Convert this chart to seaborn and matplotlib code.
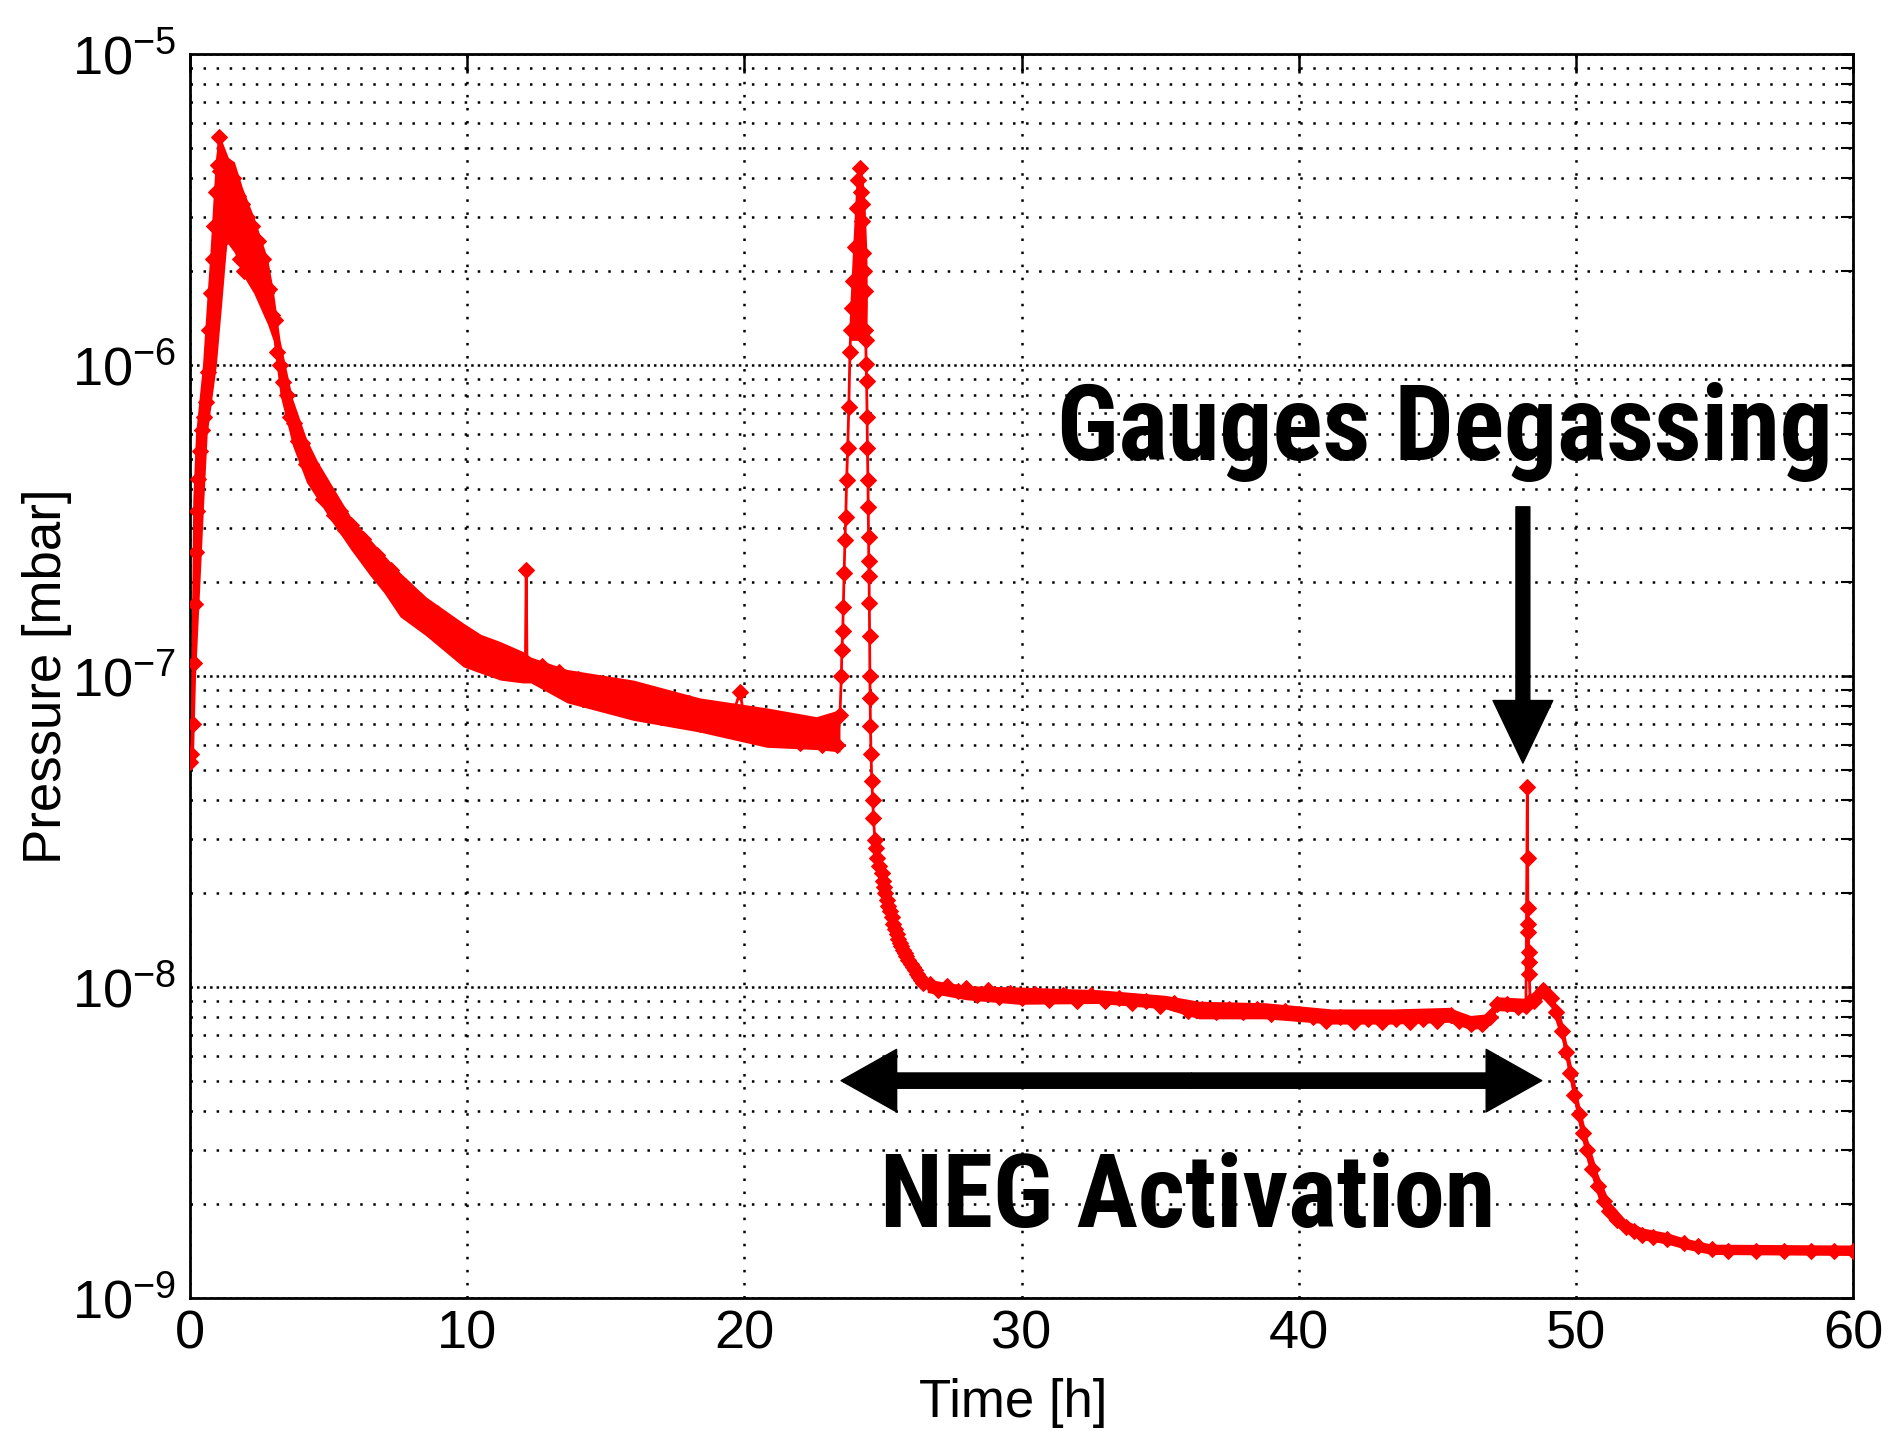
import matplotlib
matplotlib.use("Agg")
import matplotlib.pyplot as plt
import seaborn as sns
from matplotlib.ticker import FixedLocator, LogLocator, NullLocator, NullFormatter
from matplotlib import font_manager as fm

# ---------------- data ----------------
time_h = [
    0.00, 0.05, 0.10, 0.14, 0.18, 0.22, 0.26, 0.30, 0.36, 0.42, 0.50, 0.58, 0.64, 0.70, 0.76, 0.82, 0.88, 0.94, 1.00, 1.05,
    1.10, 1.18, 1.25, 1.32, 1.40, 1.48, 1.56, 1.64, 1.72, 1.80, 1.88, 1.96, 2.05, 2.15, 2.25, 2.35, 2.45, 2.55, 2.65, 2.75,
    2.85, 2.95, 3.05, 3.15, 3.25, 3.35, 3.50, 3.60, 3.75, 3.90, 4.05, 4.20, 4.35, 4.50, 4.65, 4.80, 5.00, 5.20, 5.40, 5.60,
    5.80, 6.00, 6.25, 6.50, 6.75, 7.00, 7.25, 7.50, 7.75, 8.00, 8.30, 8.60, 8.90, 9.20, 9.50, 9.80, 10.1, 10.4, 10.7, 11.0,
    11.3, 11.6, 11.9, 12.10, 12.13, 12.16, 12.4, 12.7, 13.0, 13.3, 13.6, 14.0, 14.4, 14.8, 15.2, 15.6, 16.0, 16.4, 16.8, 17.2,
    17.6, 18.0, 18.4, 18.8, 19.2, 19.6, 19.85, 20.0, 20.4, 20.8, 21.2, 21.6, 22.0, 22.4, 22.8, 23.1, 23.35, 23.45,
    23.50, 23.52, 23.55, 23.57, 23.60, 23.63, 23.66, 23.69, 23.73, 23.77, 23.81, 23.84, 23.87, 23.92, 23.98, 24.05, 24.10, 24.17,
    24.20, 24.23, 24.26, 24.29, 24.32, 24.34, 24.37, 24.38, 24.40, 24.41, 24.43, 24.44, 24.46, 24.47, 24.48, 24.49, 24.50, 24.51,
    24.52, 24.53, 24.54, 24.55, 24.57, 24.60, 24.63, 24.66, 24.71, 24.75, 24.80, 24.87, 24.95, 25.00, 25.05, 25.09, 25.13, 25.19,
    25.25, 25.31, 25.37, 25.44, 25.50, 25.55, 25.60, 25.66, 25.72, 25.78, 25.85, 25.92, 26.00, 26.07, 26.15, 26.22, 26.30, 26.37, 26.45,
    26.7, 27.0, 27.3, 27.7, 28.0, 28.4, 28.8, 29.2, 29.6, 30.0, 30.5, 31.0, 31.5, 32.0, 32.5, 33.0, 33.5, 34.0, 34.5, 35.0,
    35.5, 36.0, 36.5, 37.0, 37.5, 38.0, 38.5, 39.0, 39.5, 40.0, 40.5, 41.0, 41.5, 42.0, 42.5, 43.0, 43.5, 44.0, 44.5, 45.0,
    45.5, 45.8, 46.2, 46.6, 46.9, 47.15, 47.5, 47.9, 48.2,
    48.25, 48.26, 48.27, 48.28, 48.29, 48.30, 48.31, 48.32, 48.35,
    48.5, 48.8, 49.1, 49.3, 49.5, 49.65, 49.8, 49.95, 50.1, 50.25, 50.4, 50.6, 50.8, 51.0, 51.2, 51.5, 51.8, 52.1, 52.4, 52.8,
    53.3, 53.9, 54.4, 54.9, 55.5, 56.5, 57.5, 58.5, 59.3, 60.0,
]
pressure_mbar = [
    5.3e-8, 5.6e-8, 7.0e-8, 1.1e-7, 1.7e-7, 2.5e-7, 3.4e-7, 4.3e-7, 5.3e-7, 6.2e-7, 6.8e-7, 7.6e-7, 9.5e-7, 1.3e-6, 1.7e-6, 2.2e-6, 2.8e-6, 3.6e-6, 4.4e-6, 5.4e-6,
    4.2e-6, 3.0e-6, 4.4e-6, 2.6e-6, 3.8e-6, 2.9e-6, 4.0e-6, 2.5e-6, 3.5e-6, 2.2e-6, 3.3e-6, 2.0e-6, 3.0e-6, 2.1e-6, 2.8e-6, 1.9e-6, 2.5e-6, 1.9e-6, 2.2e-6, 1.7e-6,
    1.75e-6, 1.45e-6, 1.4e-6, 1.1e-6, 1.0e-6, 8.8e-7, 8.0e-7, 6.8e-7, 6.5e-7, 5.7e-7, 5.6e-7, 4.8e-7, 4.8e-7, 4.2e-7, 4.3e-7, 3.7e-7, 3.8e-7, 3.3e-7, 3.4e-7, 2.95e-7,
    3.05e-7, 2.7e-7, 2.75e-7, 2.35e-7, 2.45e-7, 2.05e-7, 2.2e-7, 1.8e-7, 1.95e-7, 1.65e-7, 1.75e-7, 1.5e-7, 1.6e-7, 1.35e-7, 1.45e-7, 1.2e-7, 1.3e-7, 1.1e-7, 1.22e-7, 1.05e-7,
    1.15e-7, 1.02e-7, 1.12e-7, 1.1e-7, 2.2e-7, 1.08e-7, 1.0e-7, 1.08e-7, 9.4e-8, 1.03e-7, 9.0e-8, 9.8e-8, 8.6e-8, 9.5e-8, 8.2e-8, 9.1e-8, 8.0e-8, 8.8e-8, 7.6e-8, 8.5e-8,
    7.4e-8, 8.2e-8, 7.0e-8, 7.9e-8, 6.9e-8, 7.6e-8, 8.9e-8, 7.2e-8, 6.5e-8, 7.4e-8, 6.3e-8, 7.1e-8, 6.1e-8, 6.9e-8, 6.0e-8, 6.6e-8, 6.0e-8, 7.5e-8,
    1.0e-7, 1.21e-7, 1.4e-7, 1.67e-7, 2.14e-7, 2.74e-7, 3.25e-7, 4.27e-7, 5.4e-7, 7.35e-7, 1.1e-6, 1.3e-6, 1.52e-6, 1.86e-6, 2.4e-6, 3.2e-6, 3.94e-6, 4.3e-6,
    3.6e-6, 2.9e-6, 3.3e-6, 2.29e-6, 2.0e-6, 1.73e-6, 1.3e-6, 1.2e-6, 1.01e-6, 8.9e-7, 6.8e-7, 5.4e-7, 4.27e-7, 3.5e-7, 2.8e-7, 2.35e-7, 2.1e-7, 1.72e-7,
    1.34e-7, 1.0e-7, 8.5e-8, 6.9e-8, 5.6e-8, 4.6e-8, 4.0e-8, 3.5e-8, 2.97e-8, 2.8e-8, 2.6e-8, 2.45e-8, 2.33e-8, 2.2e-8, 2.1e-8, 2.0e-8, 1.9e-8, 1.82e-8,
    1.75e-8, 1.68e-8, 1.6e-8, 1.54e-8, 1.48e-8, 1.43e-8, 1.38e-8, 1.35e-8, 1.32e-8, 1.29e-8, 1.26e-8, 1.22e-8, 1.19e-8, 1.16e-8, 1.13e-8, 1.1e-8, 1.08e-8, 1.05e-8, 1.03e-8,
    1.02e-8, 9.8e-9, 1.01e-8, 9.7e-9, 9.9e-9, 9.4e-9, 9.8e-9, 9.3e-9, 9.6e-9, 9.2e-9, 9.5e-9, 9.1e-9, 9.4e-9, 9.0e-9, 9.4e-9, 9.0e-9, 9.2e-9, 8.9e-9, 9.0e-9, 8.7e-9,
    8.9e-9, 8.4e-9, 8.5e-9, 8.3e-9, 8.5e-9, 8.3e-9, 8.5e-9, 8.2e-9, 8.4e-9, 8.2e-9, 8.0e-9, 7.8e-9, 8.0e-9, 7.7e-9, 7.9e-9, 7.7e-9, 7.9e-9, 7.7e-9, 7.9e-9, 7.8e-9,
    8.1e-9, 7.8e-9, 7.6e-9, 7.6e-9, 8.0e-9, 8.8e-9, 8.8e-9, 8.6e-9, 8.7e-9,
    4.4e-8, 2.6e-8, 1.8e-8, 1.6e-8, 1.5e-8, 1.3e-8, 1.2e-8, 1.1e-8, 9.0e-9,
    9.0e-9, 9.8e-9, 9.2e-9, 8.3e-9, 7.2e-9, 6.2e-9, 5.3e-9, 4.5e-9, 3.9e-9, 3.4e-9, 3.0e-9, 2.6e-9, 2.3e-9, 2.05e-9, 1.9e-9, 1.78e-9, 1.69e-9, 1.64e-9, 1.6e-9, 1.57e-9,
    1.55e-9, 1.5e-9, 1.47e-9, 1.44e-9, 1.42e-9, 1.42e-9, 1.42e-9, 1.42e-9, 1.42e-9, 1.42e-9,
]

# spread of the dense, noisy readings before the second peak (upper / lower edge of the red band)
band_time_h = [1.05, 1.3, 1.6, 1.9, 2.3, 2.8, 3.0, 3.25, 3.7, 4.2, 4.6, 5.05, 5.8, 6.5, 7.0, 7.58,
               8.5, 9.86, 10.5, 11.2, 12.0, 12.3, 13.6, 16.0, 18.4, 20.8, 22.6, 23.45]
band_high_mbar = [5.2e-6, 4.7e-6, 4.5e-6, 3.7e-6, 3.0e-6, 2.2e-6, 1.75e-6, 1.2e-6, 7.8e-7, 5.8e-7, 4.9e-7, 4.2e-7,
                  3.25e-7, 2.75e-7, 2.45e-7, 2.15e-7, 1.8e-7, 1.48e-7, 1.36e-7, 1.29e-7, 1.2e-7, 1.15e-7, 1.05e-7,
                  9.7e-8, 8.5e-8, 7.9e-8, 7.4e-8, 7.8e-8]
band_low_mbar = [3.0e-6, 2.5e-6, 2.3e-6, 1.95e-6, 1.7e-6, 1.35e-6, 1.2e-6, 8.0e-7, 5.5e-7, 4.2e-7, 3.7e-7, 3.2e-7,
                 2.55e-7, 2.1e-7, 1.85e-7, 1.55e-7, 1.35e-7, 1.07e-7, 1.02e-7, 9.7e-8, 9.5e-8, 9.5e-8, 8.2e-8,
                 7.2e-8, 6.6e-8, 5.9e-8, 5.8e-8, 5.7e-8]

# horizontal spread of the readings on the first rise and at the top of the second peak
rise_pressure_mbar = [5.3e-8, 1.0e-7, 3.7e-7, 6.0e-7, 1.0e-6, 1.6e-6, 2.3e-6, 3.4e-6, 4.6e-6, 5.4e-6]
rise_left_h = [0.0, 0.03, 0.10, 0.20, 0.45, 0.60, 0.72, 0.83, 0.92, 1.02]
rise_right_h = [0.12, 0.20, 0.50, 0.62, 0.95, 1.15, 1.30, 1.50, 1.40, 1.10]
peak_pressure_mbar = [1.2e-6, 1.6e-6, 2.3e-6, 3.2e-6, 4.0e-6, 4.3e-6]
peak_left_h = [23.84, 23.88, 23.95, 24.00, 24.08, 24.15]
peak_right_h = [24.42, 24.44, 24.42, 24.36, 24.28, 24.20]

# spread of the readings on the plateau and the final pump-down
plateau_time_h = [26.6, 28.0, 29.9, 32.8, 35.2, 36.4, 38.8, 41.2, 43.4, 45.4, 46.2, 46.8, 47.15, 48.2,
                  48.8, 49.1, 49.5, 49.8, 50.1, 50.4, 50.8, 51.2, 51.8, 52.4, 53.3, 53.9, 54.9, 60.0]
plateau_high_mbar = [1.06e-8, 1.01e-8, 1.0e-8, 9.8e-9, 9.4e-9, 9.0e-9, 8.9e-9, 8.5e-9, 8.5e-9, 8.6e-9, 8.1e-9, 8.2e-9,
                     9.3e-9, 9.2e-9, 1.03e-8, 9.8e-9, 7.8e-9, 5.8e-9, 4.3e-9, 3.3e-9, 2.5e-9, 2.05e-9, 1.78e-9,
                     1.68e-9, 1.62e-9, 1.56e-9, 1.49e-9, 1.48e-9]
plateau_low_mbar = [9.6e-9, 9.1e-9, 8.8e-9, 8.85e-9, 8.5e-9, 7.9e-9, 7.9e-9, 7.6e-9, 7.6e-9, 7.7e-9, 7.3e-9, 7.4e-9,
                    8.4e-9, 8.3e-9, 9.2e-9, 8.6e-9, 6.7e-9, 4.9e-9, 3.6e-9, 2.75e-9, 2.1e-9, 1.78e-9, 1.62e-9,
                    1.54e-9, 1.49e-9, 1.44e-9, 1.38e-9, 1.37e-9]

x_ticks = [0, 10, 20, 30, 40, 50, 60]
y_ticks = [1e-9, 1e-8, 1e-7, 1e-6, 1e-5]
y_tick_labels = [r"$\mathregular{10^{-9}}$", r"$\mathregular{10^{-8}}$", r"$\mathregular{10^{-7}}$",
                 r"$\mathregular{10^{-6}}$", r"$\mathregular{10^{-5}}$"]
x_label = "Time [h]"
y_label = "Pressure [mbar]"
label_gauges = "Gauges Degassing"
label_neg = "NEG Activation"
gauges_arrow_time = 48.09
gauges_arrow_from = 3.5e-7
gauges_arrow_to = 5.25e-8
neg_span = [23.49, 48.77]
neg_arrow_level = 5.0e-9

# ---------------- style ----------------
sns.set_theme(style="white")
names = {f.name for f in fm.fontManager.ttflist}
base_font = "Liberation Sans" if "Liberation Sans" in names else "DejaVu Sans"
plt.rcParams["font.family"] = [base_font, "DejaVu Sans"]
plt.rcParams["mathtext.fontset"] = "custom"
plt.rcParams["mathtext.rm"] = base_font
plt.rcParams["mathtext.it"] = base_font + ":italic"
plt.rcParams["mathtext.bf"] = base_font + ":bold"
plt.rcParams["lines.scale_dashes"] = False
plt.rcParams["axes.unicode_minus"] = False


def pick_condensed_bold():
    prefs = ["LiberationSansNarrow-Bold", "RobotoCondensed-Bold", "OpenSans_Condensed-Bold",
             "OpenSansCondensed-Bold", "OpenSans-CondBold", "DejaVuSansCondensed-Bold", "NotoSans-CondensedBold",
             "NotoSans-ExtraCondensedBold", "Roboto-CondensedBold"]
    files = [f.fname for f in fm.fontManager.ttflist]
    for p in prefs:
        for fn in files:
            if p.lower() in fn.lower().replace(" ", ""):
                return fm.FontProperties(fname=fn)
    for f in fm.fontManager.ttflist:
        low = f.fname.lower()
        if ("condensed" in low or "narrow" in low) and "bold" in low and "italic" not in low and "oblique" not in low:
            return fm.FontProperties(fname=f.fname)
    for f in fm.fontManager.ttflist:
        if f.stretch in ("condensed", "semi-condensed", "extra-condensed") and f.weight in ("bold", 700):
            return fm.FontProperties(fname=f.fname)
    return fm.FontProperties(family=[base_font, "DejaVu Sans"], weight="bold")


cond_fp = pick_condensed_bold()

fig = plt.figure(figsize=(18.92, 14.31), dpi=100)
ax = fig.add_axes([190 / 1892, 1 - 1298 / 1431, 1663 / 1892, 1244 / 1431])
ax.set_facecolor("white")

red = "#ff0000"
ax.fill_between(band_time_h, band_low_mbar, band_high_mbar, color=red, lw=0, zorder=3)
ax.fill_between(plateau_time_h, plateau_low_mbar, plateau_high_mbar, color=red, lw=0, zorder=3)
ax.fill_betweenx(rise_pressure_mbar, rise_left_h, rise_right_h, color=red, lw=0, zorder=3)
ax.fill_betweenx(peak_pressure_mbar, peak_left_h, peak_right_h, color=red, lw=0, zorder=3)
sns.lineplot(x=time_h, y=pressure_mbar, ax=ax, color=red, linewidth=2.0, marker="D",
             markersize=8.5, markeredgecolor=red, markerfacecolor=red, estimator=None,
             sort=False, legend=False, zorder=4)

ax.set_yscale("log")
ax.set_xlim(0, 60)
ax.set_ylim(1e-9, 1e-5)
ax.xaxis.set_major_locator(FixedLocator(x_ticks))
ax.xaxis.set_minor_locator(NullLocator())
ax.set_xticklabels([str(v) for v in x_ticks])
ax.yaxis.set_major_locator(FixedLocator(y_ticks))
ax.set_yticklabels(y_tick_labels)
ax.yaxis.set_minor_locator(LogLocator(base=10, subs=range(2, 10), numticks=20))
ax.yaxis.set_minor_formatter(NullFormatter())

for s in ax.spines.values():
    s.set_visible(True)
    s.set_color("black")
    s.set_linewidth(2.0)

ax.tick_params(axis="both", which="both", direction="in", top=True, right=True, color="black",
               labelsize=39, labelcolor="black")
ax.tick_params(axis="x", which="major", length=14, width=1.8, pad=8)
ax.tick_params(axis="y", which="major", length=9, width=1.8, pad=10)
ax.tick_params(axis="y", which="minor", length=9, width=1.5)

dot = (0, (1.8, 7.6))
gcol = "#000000"
ax.grid(True, axis="x", which="major", color=gcol, linestyle=dot, linewidth=1.8, zorder=1)
ax.grid(True, axis="y", which="major", color=gcol, linestyle=(0, (1.8, 2.9)), linewidth=1.8, zorder=1)
ax.grid(True, axis="y", which="minor", color=gcol, linestyle=dot, linewidth=1.8, zorder=1)
ax.set_axisbelow(True)

ax.set_xlabel(x_label, fontsize=38, color="black")
ax.set_ylabel(y_label, fontsize=38, color="black")
ax.xaxis.set_label_coords(0.495, -0.064)
ax.yaxis.set_label_coords(-0.071, 0.5)

# annotations
t1 = ax.text(45.27, 4.95e-7, label_gauges, ha="center", va="baseline", fontproperties=cond_fp,
             fontsize=76, color="black", zorder=6)
t2 = ax.text(36.0, 1.69e-9, label_neg, ha="center", va="baseline", fontproperties=cond_fp,
             fontsize=76, color="black", zorder=6)

arrow_kw = dict(facecolor="black", edgecolor="black", shrink=0.0)
ax.annotate("", xy=(gauges_arrow_time, gauges_arrow_to), xytext=(gauges_arrow_time, gauges_arrow_from),
            arrowprops=dict(width=10, headwidth=43, headlength=45, **arrow_kw), zorder=6)
mid = (neg_span[0] + neg_span[1]) / 2
ax.annotate("", xy=(neg_span[0], neg_arrow_level), xytext=(mid, neg_arrow_level),
            arrowprops=dict(width=11, headwidth=45, headlength=40, **arrow_kw), zorder=6)
ax.annotate("", xy=(neg_span[1], neg_arrow_level), xytext=(mid, neg_arrow_level),
            arrowprops=dict(width=11, headwidth=45, headlength=40, **arrow_kw), zorder=6)

# fit annotation widths to the reference
fig.canvas.draw()
r = fig.canvas.get_renderer()
for t, target in ((t1, 775.0), (t2, 615.0)):
    w = t.get_window_extent(r).width
    t.set_fontsize(t.get_fontsize() * target / w)

fig.savefig("out.png", dpi=100, facecolor="white")
